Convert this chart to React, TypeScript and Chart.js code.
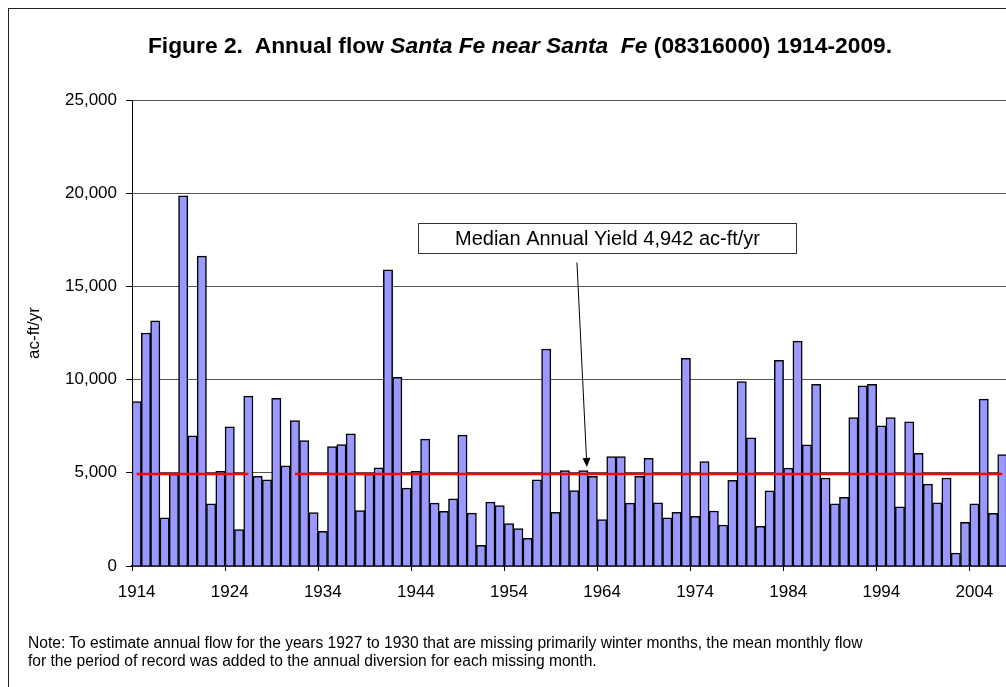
import React, { useEffect, useRef } from "react";
import { Chart, registerables } from "chart.js";

Chart.register(...registerables);

const YEARS: number[] = [
  1914, 1915, 1916, 1917, 1918, 1919, 1920, 1921, 1922, 1923,
  1924, 1925, 1926, 1927, 1928, 1929, 1930, 1931, 1932, 1933,
  1934, 1935, 1936, 1937, 1938, 1939, 1940, 1941, 1942, 1943,
  1944, 1945, 1946, 1947, 1948, 1949, 1950, 1951, 1952, 1953,
  1954, 1955, 1956, 1957, 1958, 1959, 1960, 1961, 1962, 1963,
  1964, 1965, 1966, 1967, 1968, 1969, 1970, 1971, 1972, 1973,
  1974, 1975, 1976, 1977, 1978, 1979, 1980, 1981, 1982, 1983,
  1984, 1985, 1986, 1987, 1988, 1989, 1990, 1991, 1992, 1993,
  1994, 1995, 1996, 1997, 1998, 1999, 2000, 2001, 2002, 2003,
  2004, 2005, 2006, 2007,
];

const FLOW: number[] = [
  8820, 12500, 13150, 2590, 4930, 19860, 6980, 16620, 3340, 5080,
  7460, 1960, 9110, 4810, 4620, 8990, 5370, 7800, 6730, 2860,
  1860, 6400, 6520, 7090, 2970, 4930, 5270, 15890, 10120, 4180,
  5080, 6810, 3370, 2930, 3600, 7020, 2840, 1110, 3430, 3240,
  2280, 2010, 1480, 4620, 11640, 2880, 5120, 4050, 5120, 4810,
  2490, 5870, 5870, 3370, 4810, 5770, 3390, 2590, 2880, 11140,
  2660, 5600, 2950, 2200, 4600, 9890, 6880, 2130, 4030, 11040,
  5250, 12060, 6500, 9740, 4720, 3340, 3680, 7960, 9660, 9740,
  7520, 7960, 3180, 7730, 6040, 4390, 3390, 4720, 690, 2340,
  3340, 8950, 2820, 5980,
];

const MEDIAN = 4942;
const MEDIAN_GAP_YEARS: number[] = [1927, 1928, 1929, 1930];
const Y_TICKS: number[] = [0, 5000, 10000, 15000, 20000, 25000];
const LABEL_EVERY = 10;

const TITLE_PLAIN_1 = "Figure 2.  Annual flow ";
const TITLE_ITALIC = "Santa Fe near Santa  Fe";
const TITLE_PLAIN_2 = " (08316000) 1914-2009.";
const Y_TITLE = "ac-ft/yr";
const NOTE_1 =
  "Note: To estimate annual flow for the years 1927 to 1930 that are missing primarily winter months, the mean monthly flow";
const NOTE_2 = "for the period of record was added to the annual diversion for each missing month.";
const ANNOT_TEXT = "Median Annual Yield 4,942 ac-ft/yr";
// annotation anchors in data terms (year boundary position, value)
const ANNOT_BOX = { year: 1965.0, value: 17620 };
const ANNOT_ARROW_FROM = { year: 1961.8, value: 16280 };
const ANNOT_ARROW_TO = { year: 1962.87, value: 5310 };

const FONT = '"Liberation Sans", Arial, Helvetica, sans-serif';

const annotationPlugin = {
  id: "medianAnnotation",
  afterDatasetsDraw(chart: any) {
    const { ctx, scales } = chart;
    const x = scales.x;
    const y = scales.y;
    const step = (x.right - x.left) / YEARS.length;
    const xAt = (yr: number) => x.left + (yr - YEARS[0]) * step;

    ctx.save();
    // arrow
    const x0 = xAt(ANNOT_ARROW_FROM.year);
    const y0 = y.getPixelForValue(ANNOT_ARROW_FROM.value);
    const x1 = xAt(ANNOT_ARROW_TO.year);
    const y1 = y.getPixelForValue(ANNOT_ARROW_TO.value);
    const ang = Math.atan2(y1 - y0, x1 - x0);
    const headLen = 9;
    const headHalf = 4;
    ctx.strokeStyle = "#000";
    ctx.lineWidth = 1;
    ctx.beginPath();
    ctx.moveTo(x0, y0);
    ctx.lineTo(x1 - Math.cos(ang) * headLen * 0.8, y1 - Math.sin(ang) * headLen * 0.8);
    ctx.stroke();
    ctx.fillStyle = "#000";
    ctx.beginPath();
    ctx.moveTo(x1, y1);
    ctx.lineTo(
      x1 - Math.cos(ang) * headLen + Math.sin(ang) * headHalf,
      y1 - Math.sin(ang) * headLen - Math.cos(ang) * headHalf
    );
    ctx.lineTo(
      x1 - Math.cos(ang) * headLen - Math.sin(ang) * headHalf,
      y1 - Math.sin(ang) * headLen + Math.cos(ang) * headHalf
    );
    ctx.closePath();
    ctx.fill();

    // box
    const cx = xAt(ANNOT_BOX.year);
    const cy = y.getPixelForValue(ANNOT_BOX.value);
    const w = 378;
    const h = 30;
    const bx = Math.round(cx - w / 2) + 0.5;
    const by = Math.round(cy - h / 2) + 0.5;
    ctx.fillStyle = "#fff";
    ctx.fillRect(bx, by, w, h);
    ctx.strokeStyle = "#333";
    ctx.lineWidth = 1;
    ctx.strokeRect(bx, by, w, h);
    ctx.fillStyle = "#000";
    ctx.font = `20px ${FONT}`;
    ctx.textAlign = "center";
    ctx.textBaseline = "middle";
    ctx.fillText(ANNOT_TEXT, bx + w / 2, by + h / 2 + 1);
    ctx.restore();
  },
};

export default function App() {
  const canvasRef = useRef<HTMLCanvasElement | null>(null);

  useEffect(() => {
    const canvas = canvasRef.current;
    if (!canvas) return;
    const medianLine = YEARS.map((yr) => (MEDIAN_GAP_YEARS.includes(yr) ? null : MEDIAN));
    const chart = new Chart(canvas, {
      data: {
        labels: YEARS.map(String),
        datasets: [
          {
            type: "line",
            label: "Median",
            data: medianLine,
            borderColor: "#FF0000",
            borderWidth: 2.5,
            pointRadius: 0,
            spanGaps: false,
            order: 0,
          } as any,
          {
            type: "bar",
            label: "Annual flow",
            data: FLOW,
            backgroundColor: "#9999FF",
            borderColor: "#000000",
            borderWidth: 1.5,
            barPercentage: 1,
            categoryPercentage: 1,
            order: 1,
          } as any,
        ],
      },
      options: {
        animation: false,
        responsive: false,
        maintainAspectRatio: false,
        layout: { padding: { left: 0, top: 100, right: 33, bottom: 81 } },
        plugins: {
          legend: { display: false },
          tooltip: { enabled: false },
          title: { display: false },
        },
        scales: {
          x: {
            type: "category",
            offset: true,
            grid: {
              offset: true,
              drawOnChartArea: false,
              tickLength: 5,
              color: (c: any) => (c.index % LABEL_EVERY === 0 ? "#000" : "rgba(0,0,0,0)"),
            },
            border: { color: "#000", width: 1.5 },
            ticks: {
              autoSkip: false,
              maxRotation: 0,
              minRotation: 0,
              padding: 11,
              color: "#000",
              font: { family: FONT, size: 17 },
              callback: (_v: any, i: number) => (i % LABEL_EVERY === 0 ? String(YEARS[i]) : ""),
            },
            afterFit: (s: any) => {
              s.height = 40;
            },
          },
          y: {
            type: "linear",
            min: Y_TICKS[0],
            max: Y_TICKS[Y_TICKS.length - 1],
            afterBuildTicks: (s: any) => {
              s.ticks = Y_TICKS.map((v) => ({ value: v }));
            },
            grid: { color: "#555", tickColor: "#000", tickLength: 6 },
            border: { color: "#000", width: 1 },
            ticks: {
              padding: 9,
              color: "#000",
              font: { family: FONT, size: 17 },
              callback: (v: any) => Number(v).toLocaleString("en-US"),
            },
            title: {
              display: true,
              text: Y_TITLE,
              color: "#000",
              font: { family: FONT, size: 17 },
              padding: { top: 24, bottom: 0 },
            },
            afterFit: (s: any) => {
              s.width = 132;
            },
          },
        },
      },
      plugins: [annotationPlugin],
    } as any);
    return () => chart.destroy();
  }, []);

  return (
    <div
      style={{
        position: "fixed",
        left: 0,
        top: 0,
        width: 1006,
        height: 687,
        overflow: "hidden",
        background: "#fff",
      }}
    >
      <div
        style={{
          position: "absolute",
          left: 8,
          top: 8,
          width: 1024,
          height: 720,
          border: "1px solid #222",
          boxSizing: "border-box",
        }}
      />
      <canvas
        ref={canvasRef}
        width={1040}
        height={687}
        style={{ position: "absolute", left: 0, top: 0, width: 1040, height: 687 }}
      />
      <div
        style={{
          position: "absolute",
          left: 8,
          top: 32,
          width: 1024,
          textAlign: "center",
          fontFamily: FONT,
          fontWeight: "bold",
          fontSize: 22.8,
          lineHeight: "26px",
          whiteSpace: "pre",
          color: "#000",
        }}
      >
        {TITLE_PLAIN_1}
        <i>{TITLE_ITALIC}</i>
        {TITLE_PLAIN_2}
      </div>
      <div
        style={{
          position: "absolute",
          left: 28,
          top: 634,
          fontFamily: FONT,
          fontSize: 15.6,
          lineHeight: "18px",
          color: "#000",
          whiteSpace: "pre",
        }}
      >
        {NOTE_1}
        {"\n"}
        {NOTE_2}
      </div>
    </div>
  );
}
